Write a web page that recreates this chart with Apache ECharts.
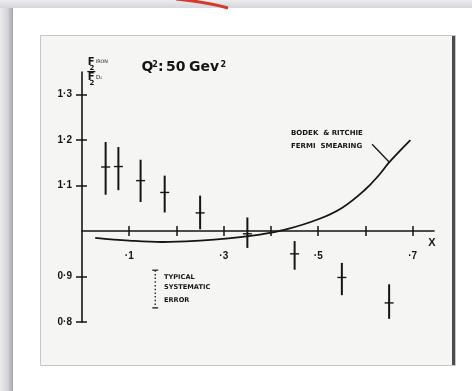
<!DOCTYPE html>
<html>
<head>
<meta charset="utf-8">
<script src="https://cdn.jsdelivr.net/npm/echarts@6/dist/echarts.min.js"></script>
<style>
  html, body { margin: 0; padding: 0; background: #ffffff; }
  #chart { width: 472px; height: 391px; }
</style>
</head>
<body>
<div id="chart"></div>
<script>
// F2(iron)/F2(deuterium) ratio at Q^2 = 50 GeV^2
const pointX    = [0.05, 0.077, 0.124, 0.175, 0.25, 0.35, 0.45, 0.55, 0.65];
const ratio     = [1.141, 1.142, 1.111, 1.085, 1.040, 0.994, 0.950, 0.898, 0.842];
const ratioLow  = [1.080, 1.090, 1.064, 1.041, 1.004, 0.963, 0.915, 0.859, 0.807];
const ratioHigh = [1.196, 1.185, 1.157, 1.122, 1.078, 1.030, 0.978, 0.930, 0.883];

// Bodek & Ritchie Fermi-smearing prediction
const smearX = [0.028, 0.10, 0.17, 0.25, 0.31, 0.38, 0.43, 0.50, 0.55, 0.60, 0.63, 0.65, 0.695];
const smearY = [0.985, 0.979, 0.976, 0.979, 0.984, 0.993, 1.003, 1.026, 1.051, 1.092, 1.125, 1.151, 1.200];

// typical systematic error bar: [x, low, high]
const sysError = [0.155, 0.831, 0.914];

// axis ranges, tick positions and tick labels
const xMin = 0, xMax = 0.745;
const yMin = 0.8, yMax = 1.35;
const xTicks = [0.1, 0.2, 0.3, 0.4, 0.5, 0.6, 0.7];
const xLabelled = [0.1, 0.3, 0.5, 0.7];
const yTicks = [0.8, 0.9, 1.1, 1.2, 1.3];
const fmtX = v => '·' + Math.round(v * 10);
const fmtY = v => v.toFixed(1).replace('.', '·');

const grid = { left: 82, top: 72, width: 352, height: 250 };
// the x axis is drawn through ratio = 1
const xAxisOffset = -((1.0 - yMin) / (yMax - yMin)) * grid.height;

const ink = '#151515';
const font = 'Liberation Sans, Arial, sans-serif';
const wide = 'DejaVu Sans, Verdana, sans-serif';

const chart = echarts.init(document.getElementById('chart'), null, { renderer: 'canvas' });

const xBase = {
  type: 'value', min: xMin, max: xMax,
  position: 'bottom', offset: xAxisOffset,
  splitLine: { show: false }
};
const yBase = {
  type: 'value', min: yMin, max: yMax,
  position: 'left',
  splitLine: { show: false }
};
const tickStyle = { color: ink, width: 1.5 };

// small helper for free-standing text, positioned by its vertical centre
const label = (text, x, y, f, extra) => Object.assign({
  type: 'text', z: 10, silent: true, x: x, y: y,
  style: { text: text, fill: ink, font: f, align: 'left', verticalAlign: 'middle' }
}, extra || {});

chart.setOption({
  backgroundColor: '#ffffff',
  animation: false,
  grid: grid,
  xAxis: [
    Object.assign({}, xBase, {
      axisLine: { show: true, lineStyle: { color: ink, width: 1.6 } },
      axisTick: { show: true, inside: false, length: 5, customValues: xTicks, lineStyle: tickStyle },
      axisLabel: {
        margin: 20, color: ink, fontSize: 10, fontWeight: 'bold', fontFamily: font,
        customValues: xLabelled, formatter: fmtX
      },
      name: 'X', nameLocation: 'end', nameGap: -2,
      nameTextStyle: { color: ink, fontSize: 11, fontWeight: 'bold', fontFamily: font,
                       align: 'center', verticalAlign: 'top', padding: [6, 0, 0, 0] }
    }),
    Object.assign({}, xBase, {
      axisLine: { show: false },
      axisTick: { show: true, inside: true, length: 5, customValues: xTicks, lineStyle: tickStyle },
      axisLabel: { show: false }
    })
  ],
  yAxis: [
    Object.assign({}, yBase, {
      axisLine: { show: true, lineStyle: { color: ink, width: 1.6 } },
      axisTick: { show: true, inside: false, length: 6, customValues: yTicks, lineStyle: tickStyle },
      axisLabel: {
        margin: 10, color: ink, fontSize: 10, fontWeight: 'bold', fontFamily: font,
        customValues: yTicks, formatter: fmtY
      }
    }),
    Object.assign({}, yBase, {
      axisLine: { show: false },
      axisTick: { show: true, inside: true, length: 5, customValues: yTicks, lineStyle: tickStyle },
      axisLabel: { show: false }
    })
  ],
  series: [
    {
      name: 'Fermi smearing',
      type: 'line',
      xAxisIndex: 0, yAxisIndex: 0,
      smooth: 0.4,
      showSymbol: false,
      data: smearX.map((x, i) => [x, smearY[i]]),
      lineStyle: { color: ink, width: 1.8 },
      z: 3,
      markLine: {
        silent: true, symbol: ['none', 'none'], label: { show: false },
        lineStyle: { color: ink, width: 1.3, type: 'solid' },
        data: [[{ coord: [0.614, 1.191] }, { coord: [0.650, 1.152] }]]
      }
    },
    {
      name: 'Iron / deuterium',
      type: 'custom',
      xAxisIndex: 0, yAxisIndex: 0,
      data: pointX.map((x, i) => [x, ratio[i], ratioLow[i], ratioHigh[i]]),
      renderItem: (params, api) => {
        const x = api.value(0);
        const top = api.coord([x, api.value(3)]);
        const bot = api.coord([x, api.value(2)]);
        const mid = api.coord([x, api.value(1)]);
        return {
          type: 'group',
          children: [
            { type: 'line', shape: { x1: top[0], y1: top[1], x2: bot[0], y2: bot[1] },
              style: { stroke: ink, lineWidth: 2 } },
            { type: 'line', shape: { x1: mid[0] - 4.5, y1: mid[1], x2: mid[0] + 4.5, y2: mid[1] },
              style: { stroke: ink, lineWidth: 1.4 } }
          ]
        };
      },
      z: 4
    },
    {
      name: 'Systematic error',
      type: 'custom',
      xAxisIndex: 0, yAxisIndex: 0,
      data: [sysError],
      renderItem: (params, api) => {
        const x = api.value(0);
        const lo = api.coord([x, api.value(1)]);
        const hi = api.coord([x, api.value(2)]);
        return {
          type: 'group',
          children: [
            { type: 'line', shape: { x1: hi[0], y1: hi[1], x2: lo[0], y2: lo[1] },
              style: { stroke: ink, lineWidth: 1.3, lineDash: [1.5, 2.2] } },
            { type: 'line', shape: { x1: hi[0] - 3, y1: hi[1], x2: hi[0] + 3, y2: hi[1] },
              style: { stroke: ink, lineWidth: 1.2 } },
            { type: 'line', shape: { x1: lo[0] - 3, y1: lo[1], x2: lo[0] + 3, y2: lo[1] },
              style: { stroke: ink, lineWidth: 1.2 } }
          ]
        };
      },
      z: 4
    }
  ],
  graphic: [
    // page frame
    { type: 'rect', z: -30, silent: true, shape: { x: 0, y: 0, width: 472, height: 8 },
      style: { fill: new echarts.graphic.LinearGradient(0, 0, 0, 1, [
        { offset: 0, color: '#ececef' }, { offset: 1, color: '#d6d6db' }]) } },
    { type: 'rect', z: -30, silent: true, shape: { x: 0, y: 8, width: 13, height: 383 },
      style: { fill: new echarts.graphic.LinearGradient(0, 0, 1, 0, [
        { offset: 0, color: '#ececef' }, { offset: 0.6, color: '#d2d2d8' }, { offset: 1, color: '#a4a4ac' }]) } },
    { type: 'bezierCurve', z: -20, silent: true,
      shape: { x1: 176, y1: -1, cpx1: 196, cpy1: 1, cpx2: 214, cpy2: 4, x2: 228, y2: 8 },
      style: { stroke: '#d4392b', lineWidth: 3, fill: null } },
    // scanned sheet
    { type: 'rect', z: -25, silent: true, shape: { x: 40.5, y: 35.5, width: 415, height: 330 },
      style: { fill: '#f5f5f4', stroke: '#c6c6c6', lineWidth: 1 } },
    { type: 'rect', z: -24, silent: true, shape: { x: 452, y: 36, width: 3, height: 329 },
      style: { fill: '#4c4c4c' } },

    // heading  Q²: 50 Gev²
    label('Q', 141.5, 67.5, 'bold 14px ' + wide),
    label('2', 152.3, 65, 'bold 8px ' + wide),
    label(':', 158, 67.5, 'bold 14px ' + wide),
    label('50', 166, 67.5, 'bold 14px ' + wide),
    label('Gev', 189, 67.5, 'bold 14px ' + wide),
    label('2', 220.5, 65, 'bold 8px ' + wide),

    // y-axis ratio label  F2(IRON) / F2(D2)
    label('F', 87.8, 62.6, 'bold 10px ' + wide),
    label('2', 89.5, 68.6, 'bold 7px ' + wide),
    label('IRON', 95.8, 61.5, '4.8px ' + wide),
    { type: 'line', z: 10, silent: true, shape: { x1: 87.3, y1: 71.6, x2: 95.3, y2: 71.6 },
      style: { stroke: ink, lineWidth: 1.3 } },
    label('F', 87.8, 77.8, 'bold 10px ' + wide),
    label('2', 89.5, 83.4, 'bold 7px ' + wide),
    label('D₂', 96, 77.8, '5.5px ' + wide),

    // curve annotation
    label('BODEK  & RITCHIE', 291, 133, 'bold 7px ' + wide),
    label('FERMI  SMEARING', 291, 146, 'bold 7px ' + wide),

    // systematic error caption
    label('TYPICAL', 164, 277.7, 'bold 6.6px ' + wide),
    label('SYSTEMATIC', 164, 287.7, 'bold 6.6px ' + wide),
    label('ERROR', 164, 300, 'bold 6.6px ' + wide)
  ]
});
</script>
</body>
</html>
